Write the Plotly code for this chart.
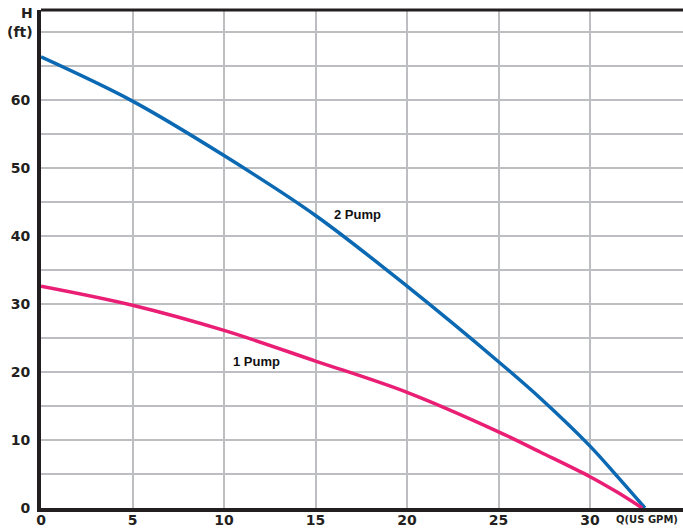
import plotly.graph_objects as go

q_two = [0, 5, 10, 15, 20, 25, 27.3, 30, 31.5, 33.0]
h_two = [66.3, 59.8, 51.8, 43.0, 32.6, 21.5, 16.1, 9.1, 4.6, 0]
q_one = [0, 5, 10, 15, 20, 25, 27.3, 30, 31.5, 32.85]
h_one = [32.6, 29.8, 26.1, 21.6, 17.0, 11.2, 8.2, 4.6, 2.3, 0]

x_ticks = [0, 5, 10, 15, 20, 25, 30]
x_ticktext = ["0", "5", "10", "15", "20", "25", "30"]
y_ticks = [0, 5, 10, 15, 20, 25, 30, 35, 40, 45, 50, 55, 60, 65, 70]
y_ticktext = ["0", "", "10", "", "20", "", "30", "", "40", "", "50", "", "60", "", ""]

BLUE = "#0b69b3"
PINK = "#e91e74"
DARK = "#231f20"
GRID = "#bdbec1"

fig = go.Figure()
fig.add_trace(go.Scatter(x=q_two, y=h_two, mode="lines", line=dict(color=BLUE, width=3.5, shape="spline", smoothing=1.0), showlegend=False))
fig.add_trace(go.Scatter(x=q_one, y=h_one, mode="lines", line=dict(color=PINK, width=3.5, shape="spline", smoothing=1.0), showlegend=False))

tickfont = dict(family="DejaVu Sans", size=14, color=DARK, weight="bold")
labfont = dict(family="DejaVu Sans", size=14, color=DARK, weight="bold")
fig.update_layout(
    width=683, height=529,
    margin=dict(l=41, r=0, t=10, b=21),
    paper_bgcolor="white", plot_bgcolor="white",
    xaxis=dict(range=[0, 35.08], tickvals=x_ticks, ticktext=x_ticktext, showgrid=True,
               gridcolor=GRID, gridwidth=2, zeroline=False, showline=True, linecolor=DARK,
               linewidth=4, ticks="", tickfont=tickfont, ticklabelstandoff=-4,
               automargin=False, fixedrange=True),
    yaxis=dict(range=[0, 73.2], tickvals=y_ticks, ticktext=y_ticktext, showgrid=True,
               gridcolor=GRID, gridwidth=2, zeroline=False, showline=True, linecolor=DARK,
               linewidth=4, ticks="", tickfont=tickfont, ticklabelstandoff=4, automargin=False,
               fixedrange=True),
    shapes=[dict(type="line", xref="paper", yref="paper", x0=0, x1=1, y0=1, y1=1,
                 line=dict(color=DARK, width=3))],
    annotations=[
        dict(x=17.27, y=43.1, text="2 Pump", showarrow=False, xref="x", yref="y",
             font=dict(family="Liberation Sans", size=13, color="#111111", weight="bold")),
        dict(x=11.75, y=21.5, text="1 Pump", showarrow=False, xref="x", yref="y",
             font=dict(family="Liberation Sans", size=13, color="#111111", weight="bold")),
        dict(x=0, y=70, xref="paper", yref="y", xanchor="right", xshift=-6, text="(ft)",
             showarrow=False, font=labfont),
        dict(x=0, y=1, xref="paper", yref="paper", xanchor="right", yanchor="middle",
             xshift=-6, yshift=-3, text="H", showarrow=False, font=labfont),
        dict(x=31.3, y=0, xref="x", yref="y", xanchor="left", yanchor="top", yshift=-4,
             text="Q(US GPM)", showarrow=False,
             font=dict(family="DejaVu Sans", size=10, color=DARK, weight="bold")),
    ],
)
fig.write_html("out.html", config={"displayModeBar": False},
               post_script="document.body.style.margin='0';document.body.style.overflow='hidden';")
